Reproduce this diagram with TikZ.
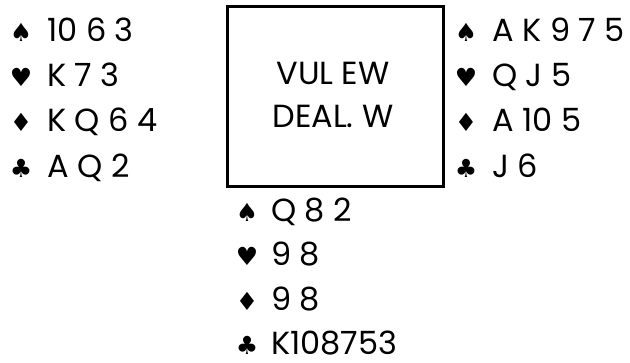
\documentclass[tikz,border=0pt]{standalone}
\usepackage{fontspec}
\setmainfont{Poppins}
\newfontfamily\suitfont{DejaVu Sans}
\begin{document}
\begin{tikzpicture}[x=1pt,y=1pt,
  suit/.style={font=\suitfont\fontsize{25}{25}\selectfont, inner sep=0pt, anchor=base},
  cards/.style={font=\fontsize{32}{32}\selectfont, inner sep=0pt, anchor=base west},
  boxtext/.style={font=\fontsize{32}{32}\selectfont, inner sep=0pt, anchor=base}]
\useasboundingbox (0,0) rectangle (630,363);
% box
\draw[line width=3pt] (227,176) rectangle (443,356);
\node[boxtext] (vul) at (333,278) {VUL EW};
\node[boxtext] (deal) at (333,235) {DEAL. W};
% west
\node[suit] (ws) at (21,321) {♠}; \node[cards] (wsc) at (47,321) {10 6 3};
\node[suit] (wh) at (21,276) {♥}; \node[cards] (whc) at (47,276) {K 7 3};
\node[suit] (wd) at (21,231) {♦}; \node[cards] (wdc) at (47,231) {K Q 6 4};
\node[suit] (wc) at (21,185) {♣}; \node[cards] (wcc) at (47,185) {A Q 2};
% east
\node[suit] (es) at (466,321) {♠}; \node[cards] (esc) at (492,321) {A K 9 7 5};
\node[suit] (eh) at (466,276) {♥}; \node[cards] (ehc) at (492,276) {Q J 5};
\node[suit] (ed) at (466,231) {♦}; \node[cards] (edc) at (492,231) {A 10 5};
\node[suit] (ec) at (466,185) {♣}; \node[cards] (ecc) at (492,185) {J 6};
% south
\node[suit] (ss) at (247,141) {♠}; \node[cards] (ssc) at (271,141) {Q 8 2};
\node[suit] (sh) at (247,97) {♥}; \node[cards] (shc) at (271,97) {9 8};
\node[suit] (sd) at (247,52) {♦}; \node[cards] (sdc) at (271,52) {9 8};
\node[suit] (sc) at (247,8) {♣}; \node[cards] (scc) at (271,8) {K108753};
\end{tikzpicture}
\end{document}
